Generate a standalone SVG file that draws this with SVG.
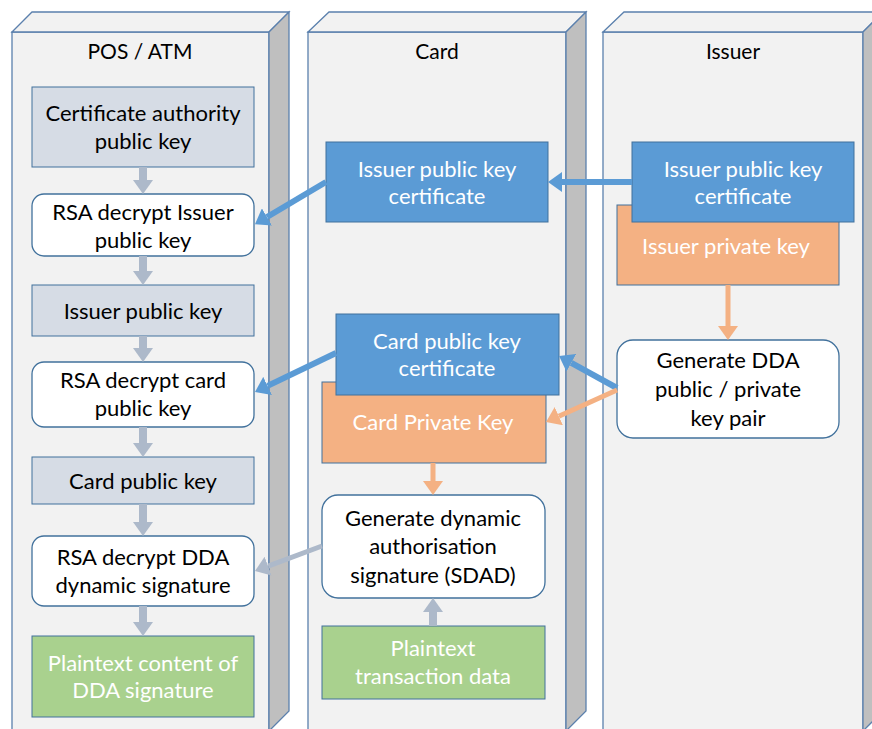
<svg xmlns="http://www.w3.org/2000/svg" width="872" height="729" viewBox="0 0 872 729">
<style>
.front{fill:#f2f2f2;stroke:#5b80ad;stroke-width:1.3}
.top{fill:#f2f2f2;stroke:#5b80ad;stroke-width:1.3}
.side{fill:#bfbfbf;stroke:#5b80ad;stroke-width:1.3}
.key{fill:#d6dce5;stroke:#41719c;stroke-width:1}
.proc{fill:#ffffff;stroke:#41719c;stroke-width:1.3}
.cert{fill:#5b9bd5;stroke:#41719c;stroke-width:1}
.priv{fill:#f4b183;stroke:#41719c;stroke-width:1}
.plain{fill:#a9d18e;stroke:#41719c;stroke-width:1}
text{font-family:Lato,"Open Sans","Liberation Sans",sans-serif;font-size:22px;text-anchor:middle}
.dk{fill:#000000}
.wt{fill:#ffffff}
.title{fill:#000000;font-size:21px}
.cg{stroke:#adb9ca;fill:none}
.cb{stroke:#5b9bd5;stroke-width:6;fill:none}
.co{stroke:#f4b183;stroke-width:5;fill:none}
</style>
<defs>
<marker id="hg" viewBox="0 -10 14 20" markerWidth="14" markerHeight="20" refX="0" refY="0" orient="auto" markerUnits="userSpaceOnUse"><path d="M0,-10 L14,0 L0,10 z" fill="#adb9ca"/></marker>
<marker id="hb" viewBox="0 -10 14 20" markerWidth="14" markerHeight="20" refX="0" refY="0" orient="auto" markerUnits="userSpaceOnUse"><path d="M0,-10 L14,0 L0,10 z" fill="#5b9bd5"/></marker>
<marker id="ho" viewBox="0 -10 14 20" markerWidth="14" markerHeight="20" refX="0" refY="0" orient="auto" markerUnits="userSpaceOnUse"><path d="M0,-10 L14,0 L0,10 z" fill="#f4b183"/></marker>
</defs>

<g id="col-pos">
<rect class="front" x="12" y="32" width="257" height="710"/>
<polygon class="top" points="12,32 32,12 289,12 269,32"/>
<polygon class="side" points="269,32 289,12 289,711 269,731"/>
<text class="title" x="140" y="59">POS / ATM</text>
</g>
<g id="col-card">
<rect class="front" x="308" y="32" width="258" height="710"/>
<polygon class="top" points="308,32 329,12 586,12 566,32"/>
<polygon class="side" points="566,32 586,12 586,711 566,731"/>
<text class="title" x="437" y="59">Card</text>
</g>
<g id="col-issuer">
<rect class="front" x="603" y="32" width="260" height="710"/>
<polygon class="top" points="603,32 624,12 883,12 863,32"/>
<polygon class="side" points="863,32 883,12 883,711 863,731"/>
<text class="title" x="733" y="59">Issuer</text>
</g>

<g id="n-ca-key">
<rect class="key" x="32" y="87" width="222" height="80"/>
<text class="dk" x="143" y="121">Certificate authority</text>
<text class="dk" x="143" y="149">public key</text>
</g>
<g id="n-rsa-issuer">
<rect class="proc" x="32" y="194" width="222" height="62" rx="12"/>
<text class="dk" x="143" y="220">RSA decrypt Issuer</text>
<text class="dk" x="143" y="248">public key</text>
</g>
<g id="n-issuer-key">
<rect class="key" x="32" y="285" width="222" height="51"/>
<text class="dk" x="143" y="319">Issuer public key</text>
</g>
<g id="n-rsa-card">
<rect class="proc" x="32" y="362" width="222" height="65" rx="12"/>
<text class="dk" x="143" y="388">RSA decrypt card</text>
<text class="dk" x="143" y="416">public key</text>
</g>
<g id="n-card-key">
<rect class="key" x="32" y="457" width="222" height="47"/>
<text class="dk" x="143" y="489">Card public key</text>
</g>
<g id="n-rsa-dda">
<rect class="proc" x="32" y="536" width="222" height="70" rx="12"/>
<text class="dk" x="143" y="565">RSA decrypt DDA</text>
<text class="dk" x="143" y="593">dynamic signature</text>
</g>
<g id="n-plain-dda">
<rect class="plain" x="32" y="636" width="222" height="81"/>
<text class="wt" x="143" y="671">Plaintext content of</text>
<text class="wt" x="143" y="698">DDA signature</text>
</g>

<g id="n-card-issuer-cert">
<rect class="cert" x="326" y="142" width="222" height="80"/>
<text class="wt" x="437" y="177">Issuer public key</text>
<text class="wt" x="437" y="204">certificate</text>
</g>
<g id="n-card-priv">
<rect class="priv" x="322" y="382" width="224" height="81"/>
<text class="wt" x="433" y="430">Card Private Key</text>
</g>
<g id="n-card-cert">
<rect class="cert" x="336" y="314" width="223" height="81"/>
<text class="wt" x="447" y="349">Card public key</text>
<text class="wt" x="447" y="376">certificate</text>
</g>
<g id="n-sdad">
<rect class="proc" x="322" y="495" width="223" height="103" rx="16"/>
<text class="dk" x="433" y="526">Generate dynamic</text>
<text class="dk" x="433" y="554">authorisation</text>
<text class="dk" x="433" y="583">signature (SDAD)</text>
</g>
<g id="n-plain-tx">
<rect class="plain" x="322" y="626" width="223" height="73"/>
<text class="wt" x="433" y="656">Plaintext</text>
<text class="wt" x="433" y="684">transaction data</text>
</g>

<g id="n-issuer-priv">
<rect class="priv" x="617" y="205" width="222" height="80"/>
<text class="wt" x="726" y="254">Issuer private key</text>
</g>
<g id="n-issuer-cert">
<rect class="cert" x="632" y="142" width="222" height="80"/>
<text class="wt" x="743" y="177">Issuer public key</text>
<text class="wt" x="743" y="204">certificate</text>
</g>
<g id="n-gen-dda">
<rect class="proc" x="617" y="340" width="222" height="98" rx="16"/>
<text class="dk" x="728" y="368">Generate DDA</text>
<text class="dk" x="728" y="397">public / private</text>
<text class="dk" x="728" y="426">key pair</text>
</g>

<g id="connectors">
<line class="cg" stroke-width="8" x1="143" y1="167" x2="143" y2="180" marker-end="url(#hg)"/>
<line class="cg" stroke-width="8" x1="143" y1="256" x2="143" y2="271" marker-end="url(#hg)"/>
<line class="cg" stroke-width="8" x1="143" y1="336" x2="143" y2="348" marker-end="url(#hg)"/>
<line class="cg" stroke-width="8" x1="143" y1="427" x2="143" y2="443" marker-end="url(#hg)"/>
<line class="cg" stroke-width="8" x1="143" y1="504" x2="143" y2="522" marker-end="url(#hg)"/>
<line class="cg" stroke-width="8" x1="143" y1="606" x2="143" y2="622" marker-end="url(#hg)"/>
<line class="cg" stroke-width="8" x1="433" y1="626" x2="433" y2="612" marker-end="url(#hg)"/>
<line class="cg" stroke-width="5" x1="322" y1="546" x2="268.1" y2="566.1" marker-end="url(#hg)"/>
<line class="cb" x1="632" y1="182" x2="562" y2="182" marker-end="url(#hb)"/>
<line class="cb" x1="326" y1="182" x2="267" y2="217" marker-end="url(#hb)"/>
<line class="cb" x1="336" y1="353" x2="267.6" y2="385.9" marker-end="url(#hb)"/>
<line class="cb" x1="617" y1="388" x2="571.3" y2="362.8" marker-end="url(#hb)"/>
<line class="co" x1="617" y1="390" x2="558.8" y2="416.2" marker-end="url(#ho)"/>
<line class="co" x1="433" y1="463" x2="433" y2="481" marker-end="url(#ho)"/>
<line class="co" x1="728" y1="285" x2="728" y2="326" marker-end="url(#ho)"/>
</g>
</svg>
